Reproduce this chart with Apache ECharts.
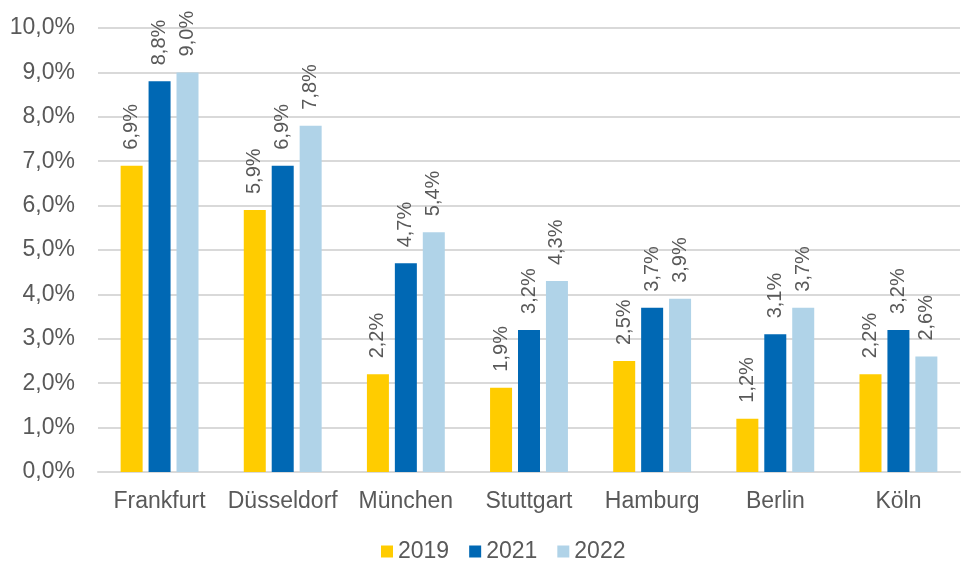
<!DOCTYPE html>
<html>
<head>
<meta charset="utf-8">
<script src="https://cdn.jsdelivr.net/npm/echarts@6/dist/echarts.min.js"></script>
<style>
  html, body { margin: 0; padding: 0; background: #fff; }
  #chart { width: 963px; height: 568px; }
</style>
</head>
<body>
<div id="chart"></div>
<script>
// Städte und Werte (in %)
var cities = ["Frankfurt", "Düsseldorf", "München", "Stuttgart", "Hamburg", "Berlin", "Köln"];
var years = ["2019", "2021", "2022"];
var v2019 = [6.9, 5.9, 2.2, 1.9, 2.5, 1.2, 2.2];
var v2021 = [8.8, 6.9, 4.7, 3.2, 3.7, 3.1, 3.2];
var v2022 = [9.0, 7.8, 5.4, 4.3, 3.9, 3.7, 2.6];
var colors = ["#FFCC00", "#0068B4", "#B0D3E8"];

function fmt(v) {
  return v.toFixed(1).replace(".", ",") + "%";
}

var myChart = echarts.init(document.getElementById("chart"));

function makeSeries(name, data) {
  return {
    name: name,
    type: "bar",
    barWidth: 22,
    barGap: "27%",
    data: data,
    label: {
      show: true,
      position: "top",
      rotate: 90,
      align: "left",
      verticalAlign: "middle",
      distance: 16,
      color: "#595959",
      fontSize: 20,
      fontFamily: "Liberation Sans",
      formatter: function (p) { return fmt(p.value); }
    }
  };
}

var options = {
  animation: false,
  color: colors,
  textStyle: { fontFamily: "Liberation Sans" },
  grid: { left: 98, right: 3, top: 28, bottom: 96 },
  legend: {
    data: years,
    bottom: 0,
    left: 376,
    itemWidth: 12,
    itemHeight: 12,
    itemGap: 20,
    icon: "rect",
    textStyle: { color: "#595959", fontSize: 23, fontFamily: "Liberation Sans" }
  },
  xAxis: {
    type: "category",
    data: cities,
    axisTick: { show: false },
    axisLine: { lineStyle: { color: "#D9D9D9", width: 2 } },
    axisLabel: { color: "#595959", fontSize: 23, margin: 18, interval: 0 }
  },
  yAxis: {
    type: "value",
    min: 0,
    max: 10,
    interval: 1,
    axisLabel: {
      color: "#595959",
      fontSize: 23,
      margin: 23,
      formatter: function (v) { return fmt(v); }
    },
    splitLine: { lineStyle: { color: "#D9D9D9", width: 2 } }
  },
  series: [
    makeSeries("2019", v2019),
    makeSeries("2021", v2021),
    makeSeries("2022", v2022)
  ]
};
myChart.setOption(options);
</script>
</body>
</html>
